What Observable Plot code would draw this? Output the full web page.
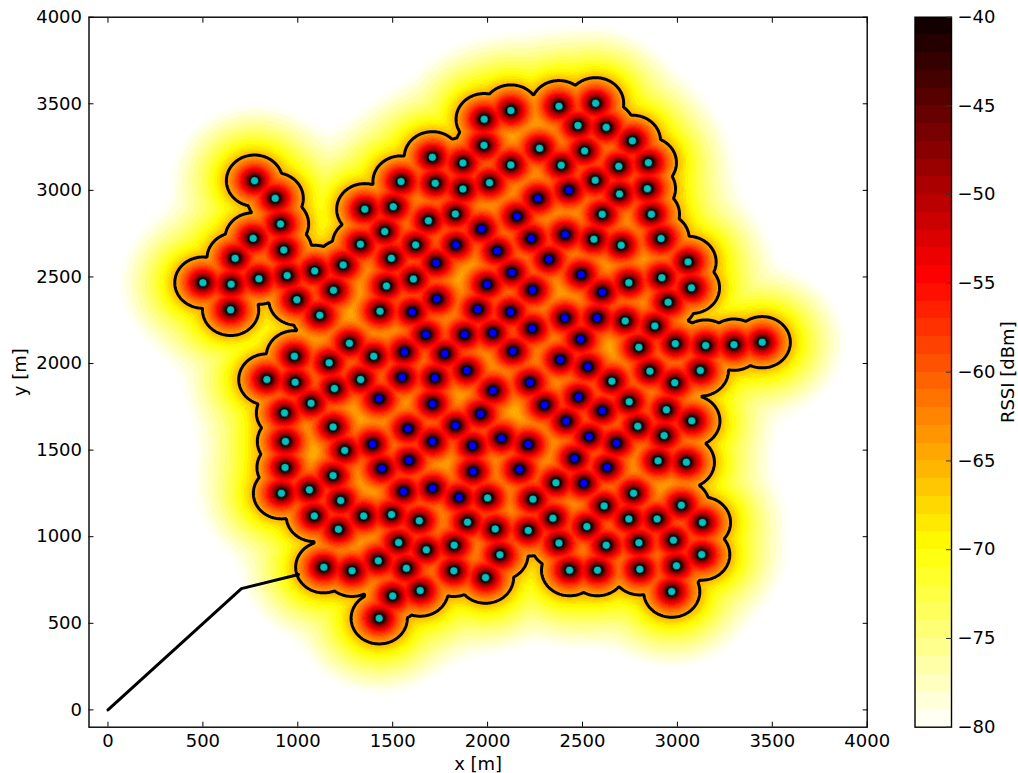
<!DOCTYPE html>
<html><head><meta charset="utf-8">
<script src="https://cdn.jsdelivr.net/npm/d3@7"></script>
<script src="https://cdn.jsdelivr.net/npm/@observablehq/plot@0.6"></script>
<style>
html,body{margin:0;padding:0;background:#fff}
#wrap{position:relative;width:1018px;height:773px;overflow:hidden}
#wrap svg{position:absolute;top:0;background:transparent;overflow:visible}
</style></head><body><div id="wrap"></div>
<script>
const cyanStations = [[772,3056],[881,2954],[909,2806],[765,2723],[926,2656],[670,2608],[500,2467],[649,2458],[795,2490],[944,2508],[1089,2535],[1239,2569],[1188,2423],[995,2369],[1116,2279],[646,2310],[1353,2891],[1503,2906],[1544,3051],[1709,3191],[1870,3158],[1982,3411],[1981,3260],[1724,3041],[1870,3008],[2010,3044],[1830,2864],[1688,2825],[1458,2762],[1330,2689],[1621,2685],[1493,2608],[1467,2448],[1609,2488],[1433,2302],[1272,2117],[1400,2042],[982,2042],[2123,3461],[2376,3486],[2569,3503],[2476,3374],[2625,3364],[2763,3286],[2274,3243],[2511,3228],[2691,3139],[2847,3160],[2123,3147],[2388,3145],[2567,3058],[2695,2979],[2842,3010],[2604,2862],[2863,2862],[2560,2718],[2704,2683],[2914,2722],[3056,2587],[2918,2496],[3074,2437],[2744,2467],[2951,2354],[2725,2246],[2881,2217],[2797,2094],[2989,2115],[3149,2104],[3298,2109],[3447,2123],[1165,2004],[837,1908],[986,1892],[1193,1856],[1331,1908],[1070,1771],[930,1715],[1186,1634],[935,1550],[1247,1498],[933,1400],[1186,1353],[914,1251],[1061,1271],[1226,1209],[2000,1224],[1087,1120],[1347,1120],[1494,1128],[1640,1092],[1214,1043],[1894,1084],[2040,1045],[1531,966],[1677,924],[1824,951],[2065,896],[1424,861],[1137,824],[1286,803],[1572,818],[1822,803],[1989,764],[1500,658],[1645,689],[1429,529],[2855,1956],[3121,1960],[2986,1889],[2655,1898],[2746,1779],[2942,1733],[3076,1669],[2791,1638],[2930,1584],[2898,1438],[3047,1430],[2360,1311],[2769,1251],[2239,1217],[3021,1182],[2614,1178],[2344,1107],[2744,1103],[2893,1103],[3132,1082],[2523,1059],[2214,1036],[2979,980],[2376,963],[2625,951],[2797,965],[3128,897],[2995,832],[2432,807],[2579,807],[2802,812],[2970,683]];
const blueStations = [[1968,2777],[1833,2685],[1728,2581],[1997,2456],[1733,2373],[1603,2298],[1948,2313],[1675,2167],[1879,2167],[1562,2067],[1775,2057],[2428,3001],[2265,2953],[2155,2849],[2230,2722],[2409,2745],[2051,2650],[2323,2602],[2128,2525],[2493,2514],[2237,2425],[2604,2412],[2121,2298],[2407,2263],[2577,2263],[2028,2177],[2235,2202],[2490,2140],[2134,2071],[2383,2022],[1549,1921],[1722,1917],[1891,1960],[2029,1844],[1428,1796],[1710,1767],[1963,1709],[1831,1642],[1580,1623],[2073,1568],[1710,1550],[1921,1525],[1394,1534],[1586,1440],[1443,1394],[1924,1376],[2168,1388],[1557,1261],[1710,1280],[1850,1226],[2528,1981],[2223,1890],[2479,1806],[2300,1761],[2604,1727],[2414,1667],[2535,1577],[2679,1540],[2214,1532],[2458,1452],[2630,1400],[2507,1309]];
const fenceX = [0, 703, 1004];
const fenceY = [0, 700, 782];
const xTicks = [0,500,1000,1500,2000,2500,3000,3500,4000];
const yTicks = [0,500,1000,1500,2000,2500,3000,3500,4000];
const barTicks = [-80,-75,-70,-65,-60,-55,-50,-45,-40];
const levels = d3.range(-80,-40);

const clamp = v => Math.max(0, Math.min(1, v));
const hot = t => d3.rgb(255*clamp(.0416+t*(.9584)/.365), 255*clamp((t-.365)/.381), 255*clamp((t-.746)/.254)).formatHex();
const bandColors = levels.map(l => hot(1-(l+80.5)/40));
const colorScale = {type:"threshold", domain:d3.range(-80,-39), range:["#ffffff",...bandColors,"#000000"]};

const all = cyanStations.concat(blueStations);
const xs = Float64Array.from(all,d=>d[0]), ys = Float64Array.from(all,d=>d[1]);
function rssi(x,y){
  let s = 0;
  for(let i=0;i<xs.length;i++){
    const a=(x-xs[i])/148,b=(y-ys[i])/148,d=Math.max(a*a+b*b,1e-3),c=d*d*d;
    s += 1/(c*c);
  }
  return -65 + 32/12*Math.log10(s);
}
function strongest(x,y){
  let m = Infinity;
  for(let i=0;i<xs.length;i++){
    const a=(x-xs[i])/148,b=(y-ys[i])/148,d=a*a+b*b;
    if(d<m)m=d;
  }
  return -65 - 16*Math.log10(Math.max(m,1e-3));
}
const extent = {x1:-100,x2:4000,y1:-100,y2:4000};
const font = {fontFamily:"'DejaVu Sans'",fontSize:"18px"};
const black = "#000";

const main = Plot.plot({
  width:880,height:773,marginLeft:88.5,marginRight:13.3,marginTop:16.7,marginBottom:46.3,
  style:{...font,color:black},
  x:{domain:[-100,4000]},y:{domain:[-100,4000]},color:colorScale,
  marks:[
    Plot.raster({...extent,fill:rssi,pixelSize:1,imageRendering:"auto"}),
    Plot.contour({...extent,value:strongest,thresholds:[-65],pixelSize:1,stroke:black,fill:"none",strokeWidth:3}),
    Plot.line(fenceX.map((x,i)=>[x,fenceY[i]]),{x:d=>d[0],y:d=>d[1],stroke:black,strokeWidth:3}),
    Plot.dot(cyanStations,{x:d=>d[0],y:d=>d[1],r:4,fill:"#00c0c0",stroke:"#000",strokeWidth:.6}),
    Plot.dot(blueStations,{x:d=>d[0],y:d=>d[1],r:4,fill:"#0000ff",stroke:"#000",strokeWidth:.6}),
    Plot.frame({stroke:black,strokeWidth:1.4}),
    Plot.axisX({ticks:xTicks,tickFormat:"d",tickSize:-5,tickPadding:12,label:"x [m]",labelAnchor:"center",labelArrow:"none",labelOffset:43}),
    Plot.axisX({ticks:xTicks,anchor:"top",tickSize:-5,text:null,label:null}),
    Plot.axisY({ticks:yTicks,tickFormat:"d",tickSize:-5,tickPadding:12,label:"y [m]",labelAnchor:"center",labelArrow:"none",labelOffset:76}),
    Plot.axisY({ticks:yTicks,anchor:"right",tickSize:-5,text:null,label:null})
  ]
});
main.style.left="0px";
// The reference draws only the outer boundary: drop the small interior rings.
main.querySelectorAll('[aria-label="contour"] path').forEach(p=>{
  const rings=(p.getAttribute("d")||"").split(/(?=M)/);
  const longest=d3.max(rings,r=>r.length);
  p.setAttribute("d",rings.filter(r=>r.length>longest*0.2).join(""));
});

const bar = Plot.plot({
  width:138,height:773,marginLeft:34.5,marginRight:67,marginTop:16.7,marginBottom:46.3,
  style:{...font,color:black},
  x:{domain:[0,1],axis:null},y:{domain:[-80,-40]},color:colorScale,
  marks:[
    Plot.rect(levels,{x1:()=>0,x2:()=>1,y1:d=>d,y2:d=>d+1,fill:d=>d+.5,shapeRendering:"crispEdges"}),
    Plot.frame({stroke:black,strokeWidth:1.4}),
    Plot.axisY({ticks:barTicks,anchor:"right",tickSize:-6,tickPadding:12,label:"RSSI [dBm]",labelAnchor:"center",labelArrow:"none",labelOffset:62,stroke:"#333"})
  ]
});
bar.style.left="880px";
document.getElementById("wrap").append(main,bar);
</script></body></html>
